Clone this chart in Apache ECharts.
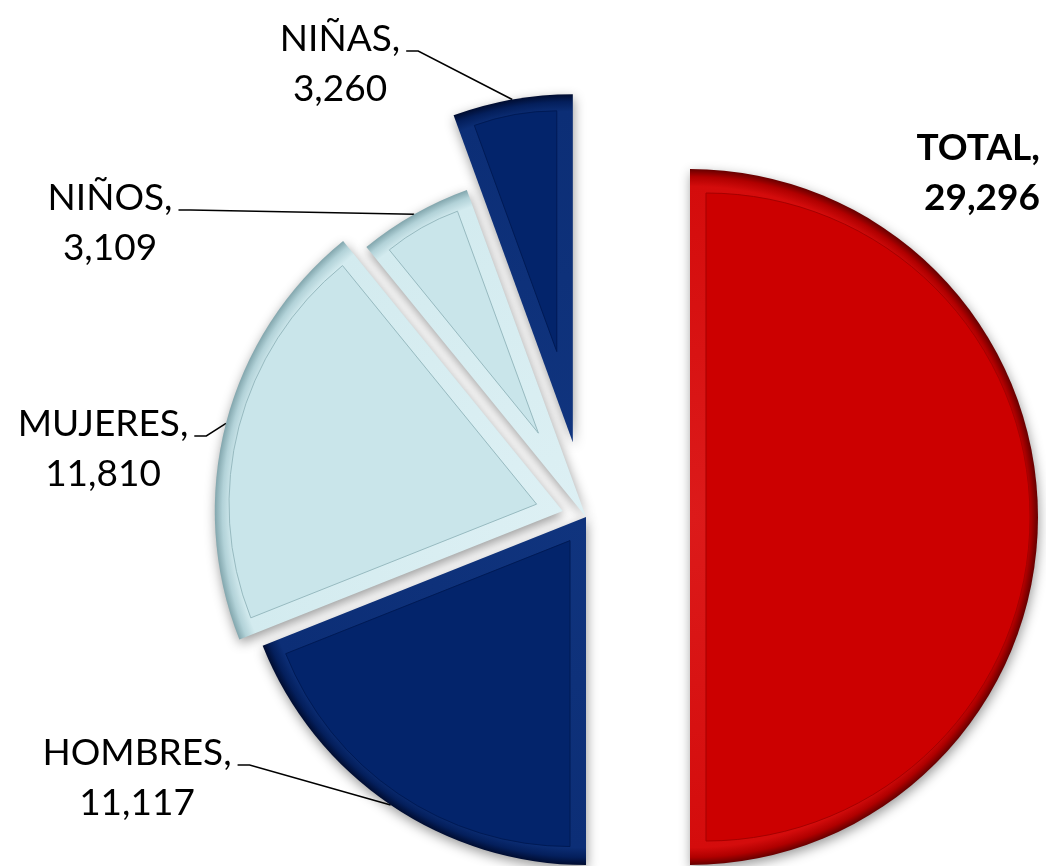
<!DOCTYPE html>
<html>
<head>
<meta charset="utf-8">
<script src="https://cdn.jsdelivr.net/npm/echarts@6/dist/echarts.min.js"></script>
<style>
  html, body { margin: 0; padding: 0; background: #fff; }
  #chart { width: 1046px; height: 866px; }
</style>
</head>
<body>
<div id="chart"></div>
<script>
// data
const categories = ['TOTAL', 'HOMBRES', 'MUJERES', 'NIÑOS', 'NIÑAS'];
const values = [29296, 11117, 11810, 3109, 3260];

// layout (pixels)
const cx = 586, cy = 517, R = 348, bevel = 16;
const explode = [104, 0, 24, 0, 76];
const labelPos = [
  { x: 1040, y: 173, align: 'right', bold: true },
  { x: 137, y: 778, align: 'center' },
  { x: 103, y: 449, align: 'center' },
  { x: 110, y: 223, align: 'center' },
  { x: 340, y: 64, align: 'center' }
];
const red = { rim: ['#DC1A1A', '#D40C0C', '#B00000', '#650000'], base: '#CC0000', line: '#A50000' };
const navy = { rim: ['#10347E', '#0C2E76', '#041F5C', '#000C30'], base: '#03246B', line: '#001A55' };
const pale = { rim: ['#DDF0F4', '#D3EBEF', '#B2D2D8', '#82A6AD'], base: '#C9E5EA', line: '#97BAC0' };
const palette = [red, navy, pale, pale, navy];

const total = values.reduce((a, b) => a + b, 0);
let acc = 0;
const spans = values.map(v => v / total * 360);
const mids = values.map(v => { const m = (acc + v / 2) / total * 360; acc += v; return m; });
const dir = a => [Math.sin(a * Math.PI / 180), -Math.cos(a * Math.PI / 180)];
const fmt = v => v.toLocaleString('en-US');

const series = [];
categories.forEach((name, i) => {
  const d = dir(mids[i]);
  const oc = [cx + explode[i] * d[0], cy + explode[i] * d[1]];
  const half = spans[i] / 2 * Math.PI / 180;
  const s = bevel / Math.sin(half);
  const rin = R - bevel - s * (1 + Math.cos(half)) / 2;
  const ic = [oc[0] + s * d[0], oc[1] + s * d[1]];
  const col = palette[i];
  const pos = labelPos[i];

  const hidden = j => ({
    name: categories[j], value: values[j],
    itemStyle: { color: 'rgba(0,0,0,0)', borderWidth: 0, shadowBlur: 0, shadowColor: 'rgba(0,0,0,0)' },
    label: { show: false }, labelLine: { show: false }
  });

  // outer sector (bevel rim + shadow)
  series.push({
    type: 'pie', center: oc, radius: [0, R], startAngle: 90, clockwise: true,
    silent: true, avoidLabelOverlap: false, animation: false,
    data: categories.map((n, j) => j !== i ? hidden(j) : {
      name: n, value: values[j],
      itemStyle: {
        color: {
          type: 'radial', x: oc[0], y: oc[1], r: R, global: true,
          colorStops: [
            { offset: 0, color: col.rim[0] },
            { offset: 0.95, color: col.rim[1] },
            { offset: 0.978, color: col.rim[2] },
            { offset: 1, color: col.rim[3] }
          ]
        },
        borderWidth: 0,
        shadowBlur: 12, shadowColor: 'rgba(0,0,0,0.4)', shadowOffsetX: 1, shadowOffsetY: 4
      },
      label: {
        show: true, position: 'outside',
        formatter: p => p.name + ',\n' + fmt(p.value),
        fontFamily: 'Lato', fontSize: 37, lineHeight: 50, color: '#000',
        fontWeight: pos.bold ? 'bold' : 'normal', align: pos.align
      },
      labelLine: { show: !pos.bold, lineStyle: { color: '#000', width: 1.5 } }
    }),
    labelLayout: p => {
      if (p.dataIndex !== i) return;
      const out = { x: pos.x, y: pos.y, align: pos.align, verticalAlign: 'middle' };
      if (p.labelLinePoints && !pos.bold) {
        const right = pos.x + p.labelRect.width / 2;
        const by = pos.y - 13;
        out.labelLinePoints = [p.labelLinePoints[0], [right + 18, by], [right + 6, by]];
      }
      return out;
    }
  });

  // inner face
  series.push({
    type: 'pie', center: ic, radius: [0, rin], startAngle: 90, clockwise: true,
    silent: true, animation: false,
    label: { show: false }, labelLine: { show: false },
    data: categories.map((n, j) => j !== i ? hidden(j) : {
      name: n, value: values[j],
      itemStyle: { color: col.base, borderColor: col.line, borderWidth: 1, shadowBlur: 0 }
    })
  });
});

const chart = echarts.init(document.getElementById('chart'));
chart.setOption({
  backgroundColor: '#fff',
  animation: false,
  series: series
});
</script>
</body>
</html>
